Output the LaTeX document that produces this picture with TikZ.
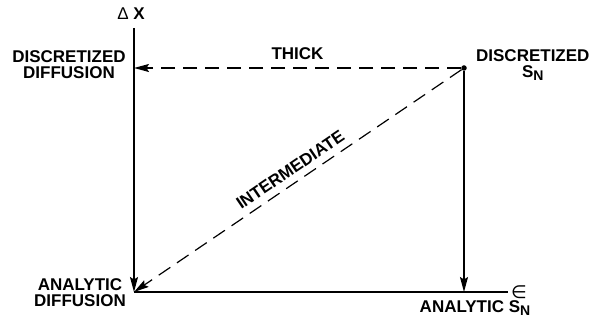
\documentclass[tikz,border=0pt]{standalone}
\usepackage{fontspec}
\setmainfont{Liberation Sans}
\newfontfamily\simbolo{DejaVu Sans}
\usepackage{tikz}
\usetikzlibrary{arrows.meta,positioning}
\newcommand{\sn}{S\raisebox{-3.5pt}{\fontsize{14}{14}\selectfont N}}
\tikzset{
  rotulo/.style={
    align=center,
    inner sep=0pt,
    font=\fontsize{17}{16}\selectfont\bfseries
  },
  eje/.style={
    line width=1.2pt,
    black
  },
  flecha/.style={
    -{Stealth[length=15pt,width=8pt,inset=2.5pt]},
    line width=1.2pt,
    black
  },
  discont/.style={
    dash pattern=on 14pt off 8pt
  },
  punto/.style={
    circle,
    fill=black,
    inner sep=0pt,
    minimum size=5.5pt
  }
}
\begin{document}
\begin{tikzpicture}[x=1pt,y=-1pt]
\useasboundingbox (0,0) rectangle (592,320);
\coordinate (o) at (134,292);
\coordinate (ytop) at (134,28);
\coordinate (xend) at (508,292);
\coordinate (dd) at (134,68);
\coordinate (as) at (464,292);
\node[punto] (ds) at (464,68) {};
% etiquetas
\node[rotulo] (ylab) at (131,14) {{\mdseries Δ} X};
\node[rotulo, right=3pt of xend, font=\fontsize{18}{18}\selectfont\simbolo] (xlab) {∈};
\node[rotulo] (ldd) at (69,65) {DISCRETIZED\\DIFFUSION};
\node[rotulo, right=9pt of ds, yshift=3pt] (lds) {DISCRETIZED\\\sn};
\node[rotulo] (lad) at (80,293) {ANALYTIC\\DIFFUSION};
\node[rotulo] (las) at (475,308) {ANALYTIC \sn};
% ejes y flechas
\draw[flecha] (ytop) -- (o);
\draw[eje] (o) -- (xend);
\draw[flecha, discont] (ds) -- (dd) node[rotulo, midway, above=8pt] (thick) {THICK};
\draw[flecha] (ds) -- (as);
\draw[flecha, discont] (ds) -- (o) node[rotulo, pos=.5, sloped, above=7pt] (inter) {INTERMEDIATE};
\end{tikzpicture}
\end{document}
